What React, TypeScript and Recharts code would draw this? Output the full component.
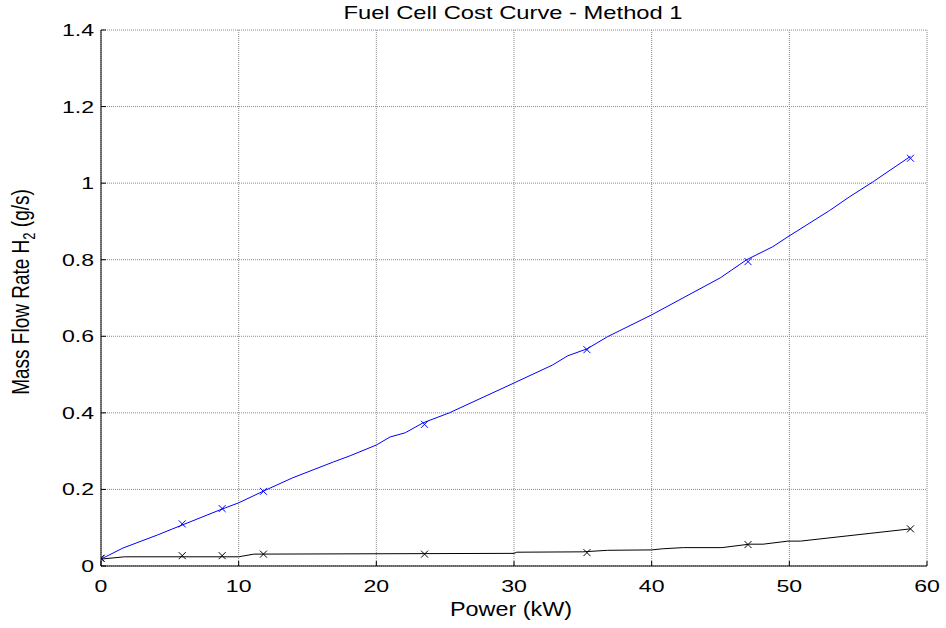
import { ComposedChart, Line, Scatter, XAxis, YAxis, CartesianGrid } from 'recharts';

// marker points (x symbols)
const markPower = [0, 5.9, 8.8, 11.8, 23.5, 35.3, 47.0, 58.8];
const markBlue = [0.02, 0.11, 0.15, 0.195, 0.37, 0.565, 0.795, 1.065];
const markBlack = [0.02, 0.027, 0.027, 0.031, 0.031, 0.035, 0.056, 0.097];

// curves
const bluePower = [0, 1.6, 4.1, 5.2, 5.9, 8.6, 10.0, 11.7, 13.9, 16.9, 18.1, 20.0, 21.0, 22.1, 23.4, 25.3, 30.0, 32.8, 33.9, 35.3, 36.8, 40.0, 45.0, 46.9, 48.8, 49.9, 52.9, 54.4, 56.1, 58.8];
const blueFlow = [0.018, 0.047, 0.081, 0.097, 0.107, 0.146, 0.165, 0.194, 0.23, 0.272, 0.288, 0.316, 0.337, 0.348, 0.374, 0.4, 0.478, 0.525, 0.549, 0.567, 0.599, 0.656, 0.753, 0.8, 0.834, 0.86, 0.928, 0.965, 1.004, 1.07];
const blackPower = [0, 1.7, 10.0, 11.1, 30.0, 30.2, 35.0, 36.8, 40.0, 40.8, 42.3, 45.1, 47.1, 48.1, 49.9, 50.8, 58.8];
const blackFlow = [0.018, 0.024, 0.024, 0.031, 0.033, 0.036, 0.037, 0.041, 0.042, 0.045, 0.048, 0.048, 0.057, 0.057, 0.065, 0.065, 0.097];

const xTicks = [0, 10, 20, 30, 40, 50, 60];
const yTicks = [0, 0.2, 0.4, 0.6, 0.8, 1, 1.2, 1.4];

const zip = (xs: number[], ys: number[]) => xs.map((x, i) => ({ x, y: ys[i] }));
const blueLine = zip(bluePower, blueFlow);
const blackLine = zip(blackPower, blackFlow);
const blueMarks = zip(markPower, markBlue);
const blackMarks = zip(markPower, markBlack);

const FONT = '"Liberation Sans", Arial, Helvetica, sans-serif';

function XMark(color: string) {
  return (p: any) => {
    const { cx, cy } = p;
    const r = 3.5;
    return (
      <g stroke={color} strokeWidth={1}>
        <line x1={cx - r} y1={cy - r} x2={cx + r} y2={cy + r} />
        <line x1={cx - r} y1={cy + r} x2={cx + r} y2={cy - r} />
      </g>
    );
  };
}

function YTick(p: any) {
  const { x, y, payload } = p;
  const axisX = x + 7;
  return (
    <g>
      <line x1={axisX} y1={y} x2={axisX + 5} y2={y} stroke="#000" />
      <text
        transform={`translate(${x},${y + 6}) scale(1.4,1)`}
        textAnchor="end"
        fontSize={16.5}
        fontFamily={FONT}
        fill="#000"
      >
        {String(payload.value)}
      </text>
    </g>
  );
}

function XTick(p: any) {
  const { x, y, payload } = p;
  const axisY = y - 8;
  return (
    <g>
      <line x1={x} y1={axisY} x2={x} y2={axisY - 5} stroke="#000" />
      <text
        transform={`translate(${x},${y + 18}) scale(1.4,1)`}
        textAnchor="middle"
        fontSize={16.5}
        fontFamily={FONT}
        fill="#000"
      >
        {String(payload.value)}
      </text>
    </g>
  );
}

export default function App() {
  return (
    <div style={{ position: 'absolute', left: 0, top: 0, background: '#fff' }}>
      <ComposedChart width={946} height={628} margin={{ top: 30, right: 19, bottom: 0, left: 0 }}>
        <CartesianGrid stroke="#8a8a8a" strokeDasharray="1 1" />
        <XAxis
          type="number"
          dataKey="x"
          domain={[0, 60]}
          ticks={xTicks}
          height={62}
          tickSize={0}
          tickMargin={8}
          tick={XTick}
          axisLine={{ stroke: '#000' }}
          allowDataOverflow
        />
        <YAxis
          type="number"
          dataKey="y"
          domain={[0, 1.4]}
          ticks={yTicks}
          width={101}
          tickSize={0}
          tickMargin={7}
          tick={YTick}
          axisLine={{ stroke: '#000' }}
          allowDataOverflow
        />
        <Line data={blueLine} dataKey="y" type="linear" stroke="#0000ff" strokeWidth={1} dot={false} isAnimationActive={false} />
        <Line data={blackLine} dataKey="y" type="linear" stroke="#000" strokeWidth={1} dot={false} isAnimationActive={false} />
        <Scatter data={blueMarks} dataKey="y" shape={XMark('#0000ff')} isAnimationActive={false} />
        <Scatter data={blackMarks} dataKey="y" shape={XMark('#000')} isAnimationActive={false} />
        <text
          transform="translate(513,19) scale(1.25,1)"
          textAnchor="middle"
          fontSize={19}
          fontFamily={FONT}
          fill="#000"
        >
          Fuel Cell Cost Curve - Method 1
        </text>
        <text
          transform="translate(511,616) scale(1.2,1)"
          textAnchor="middle"
          fontSize={19.5}
          fontFamily={FONT}
          fill="#000"
        >
          Power (kW)
        </text>
        <text
          transform="translate(29,292) rotate(-90) scale(1,1.25)"
          textAnchor="middle"
          fontSize={19}
          fontFamily={FONT}
          fill="#000"
        >
          Mass Flow Rate H<tspan fontSize={13} dy={5}>2</tspan>
          <tspan dy={-5}> (g/s)</tspan>
        </text>
      </ComposedChart>
    </div>
  );
}
